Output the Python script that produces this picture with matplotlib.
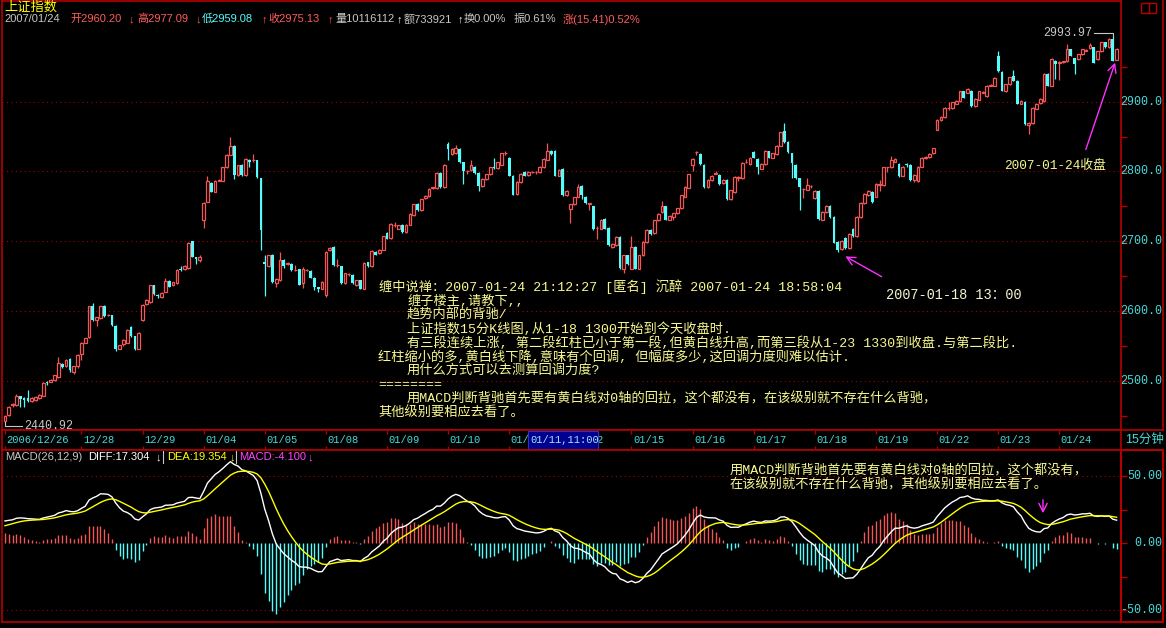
import numpy as np
import matplotlib
matplotlib.use("Agg")
import matplotlib.pyplot as plt
from matplotlib.patches import Rectangle, FancyArrowPatch

FAM = ['Liberation Sans', 'Noto Sans CJK SC', 'DejaVu Sans']
MONO = ['Liberation Mono', 'Noto Sans CJK SC', 'DejaVu Sans']
plt.rcParams['font.family'] = FAM

# ---- 15 minute bars, 2006/12/26 (tail) .. 2007/01/24 ----
days = ['2006/12/26', '12/27', '12/28', '12/29', '01/04', '01/05', '01/08', '01/09', '01/10',
        '01/11', '01/12', '01/15', '01/16', '01/17', '01/18', '01/19', '01/22', '01/23', '01/24']
bars_per_day = [4] + [16] * 18
shown_days = ['2006/12/26', '12/28', '12/29', '01/04', '01/05', '01/08', '01/09', '01/10', '01/11',
              '01/12', '01/15', '01/16', '01/17', '01/18', '01/19', '01/22', '01/23', '01/24']

opens = [
    2443, 2451, 2465, 2465,
    2478, 2476, 2475, 2471, 2472, 2475, 2479, 2499, 2499, 2501, 2506, 2524, 2521, 2532, 2513, 2521,
    2539, 2555, 2563, 2607, 2587, 2590, 2608, 2594, 2594, 2579, 2546, 2553, 2555, 2577, 2564, 2546,
    2587, 2610, 2613, 2637, 2623, 2620, 2628, 2643, 2637, 2640, 2660, 2660, 2662, 2700, 2677, 2673,
    2731, 2757, 2784, 2771, 2787, 2787, 2806, 2824, 2836, 2795, 2810, 2795, 2817, 2816, 2816, 2790,
    2670, 2664, 2681, 2640, 2644, 2673, 2667, 2668, 2659, 2660, 2640, 2659, 2658, 2648, 2634, 2632,
    2623, 2687, 2692, 2666, 2664, 2640, 2653, 2652, 2637, 2644, 2632, 2670, 2664, 2685, 2683, 2688,
    2712, 2705, 2723, 2718, 2724, 2713, 2724, 2737, 2754, 2745, 2762, 2765, 2777, 2776, 2798, 2778,
    2839, 2825, 2826, 2832, 2813, 2800, 2802, 2807, 2798, 2779, 2789, 2796, 2807, 2805, 2810, 2826,
    2820, 2794, 2768, 2785, 2799, 2795, 2799, 2799, 2799, 2806, 2817, 2830, 2830, 2794, 2804, 2766,
    2746, 2753, 2764, 2779, 2764, 2754, 2750, 2719, 2718, 2732, 2719, 2692, 2694, 2706, 2660, 2680,
    2661, 2692, 2661, 2680, 2699, 2716, 2712, 2730, 2742, 2750, 2731, 2735, 2740, 2747, 2764, 2777,
    2810, 2828, 2825, 2810, 2778, 2788, 2797, 2795, 2783, 2788, 2760, 2770, 2791, 2790, 2813, 2811,
    2828, 2818, 2804, 2811, 2829, 2820, 2825, 2837, 2858, 2842, 2826, 2810, 2790, 2775, 2774, 2779,
    2762, 2772, 2731, 2742, 2751, 2735, 2699, 2689, 2705, 2690, 2718, 2707, 2735, 2755, 2766, 2771,
    2764, 2781, 2780, 2806, 2806, 2814, 2811, 2794, 2811, 2810, 2788, 2786, 2807, 2820, 2821, 2826,
    2860, 2874, 2878, 2891, 2891, 2897, 2901, 2915, 2913, 2916, 2894, 2903, 2913, 2908, 2923, 2923,
    2966, 2943, 2915, 2925, 2937, 2930, 2897, 2900, 2866, 2869, 2890, 2898, 2901, 2940, 2923, 2959,
    2956, 2957, 2958, 2975, 2962, 2961, 2968, 2973, 2977, 2978, 2961, 2972, 2985, 2978, 2990, 2960.20,
]
highs = [
    2451, 2464, 2469, 2481,
    2479, 2477, 2487, 2477, 2478, 2481, 2498, 2500, 2503, 2509, 2534, 2525, 2531, 2533, 2522, 2538,
    2556, 2562, 2608, 2611, 2592, 2608, 2609, 2596, 2595, 2580, 2552, 2560, 2574, 2578, 2565, 2570,
    2610, 2617, 2638, 2638, 2624, 2627, 2647, 2644, 2642, 2660, 2665, 2666, 2699, 2701, 2678, 2680,
    2756, 2793, 2785, 2788, 2789, 2807, 2825, 2850, 2838, 2810, 2811, 2819, 2818, 2825, 2817, 2791,
    2680, 2681, 2682, 2647, 2685, 2674, 2671, 2669, 2666, 2661, 2663, 2661, 2659, 2649, 2635, 2643,
    2686, 2692, 2693, 2674, 2665, 2655, 2655, 2653, 2645, 2645, 2670, 2671, 2687, 2686, 2689, 2708,
    2713, 2726, 2727, 2724, 2725, 2725, 2740, 2754, 2755, 2761, 2766, 2776, 2778, 2799, 2799, 2811,
    2842, 2833, 2838, 2833, 2814, 2802, 2816, 2808, 2799, 2790, 2797, 2807, 2820, 2814, 2827, 2829,
    2821, 2795, 2786, 2798, 2800, 2800, 2801, 2800, 2808, 2819, 2841, 2831, 2831, 2803, 2805, 2773,
    2754, 2764, 2782, 2780, 2765, 2755, 2751, 2722, 2732, 2733, 2720, 2697, 2707, 2707, 2681, 2681,
    2707, 2693, 2681, 2700, 2717, 2717, 2731, 2740, 2758, 2751, 2737, 2741, 2748, 2767, 2779, 2797,
    2820, 2830, 2826, 2811, 2789, 2795, 2801, 2796, 2789, 2789, 2774, 2793, 2793, 2813, 2818, 2821,
    2829, 2819, 2812, 2831, 2830, 2827, 2838, 2857, 2869, 2843, 2827, 2811, 2791, 2777, 2791, 2781,
    2773, 2773, 2743, 2752, 2752, 2736, 2700, 2702, 2706, 2712, 2719, 2736, 2756, 2769, 2773, 2772,
    2783, 2788, 2807, 2807, 2822, 2819, 2812, 2808, 2812, 2811, 2796, 2808, 2821, 2822, 2826, 2834,
    2875, 2879, 2892, 2900, 2900, 2903, 2916, 2916, 2919, 2917, 2905, 2916, 2915, 2924, 2925, 2935,
    2972, 2944, 2926, 2936, 2946, 2931, 2902, 2901, 2871, 2892, 2898, 2905, 2941, 2941, 2962, 2960,
    2958, 2959, 2982, 2976, 2963, 2969, 2976, 2975, 2984, 2979, 2973, 2986, 2986, 2991, 2993.97, 2977.09,
]
lows = [
    2440.92, 2450, 2463, 2464,
    2463, 2462, 2470, 2470, 2471, 2474, 2478, 2494, 2498, 2500, 2504, 2518, 2520, 2513, 2510, 2519,
    2530, 2554, 2562, 2586, 2578, 2589, 2592, 2593, 2579, 2543, 2545, 2550, 2554, 2563, 2544, 2545,
    2586, 2609, 2612, 2623, 2619, 2619, 2627, 2634, 2636, 2639, 2657, 2659, 2661, 2677, 2667, 2670,
    2719, 2756, 2770, 2770, 2786, 2786, 2805, 2823, 2789, 2794, 2794, 2794, 2807, 2814, 2790, 2688,
    2621, 2663, 2640, 2634, 2643, 2662, 2666, 2658, 2657, 2637, 2633, 2657, 2647, 2630, 2628, 2631,
    2620, 2686, 2664, 2663, 2639, 2639, 2651, 2639, 2636, 2631, 2631, 2663, 2663, 2680, 2682, 2687,
    2703, 2704, 2721, 2717, 2712, 2712, 2723, 2736, 2744, 2744, 2761, 2764, 2775, 2775, 2777, 2777,
    2816, 2824, 2825, 2812, 2782, 2796, 2801, 2797, 2772, 2778, 2788, 2795, 2804, 2804, 2809, 2824,
    2793, 2766, 2767, 2784, 2793, 2794, 2798, 2797, 2798, 2805, 2816, 2824, 2793, 2793, 2765, 2765,
    2726, 2752, 2763, 2760, 2754, 2745, 2716, 2703, 2717, 2717, 2693, 2691, 2693, 2661, 2654, 2666,
    2660, 2660, 2660, 2679, 2698, 2709, 2711, 2729, 2741, 2730, 2730, 2730, 2739, 2746, 2763, 2776,
    2800, 2823, 2810, 2777, 2777, 2787, 2796, 2781, 2782, 2759, 2759, 2769, 2787, 2789, 2812, 2810,
    2819, 2796, 2803, 2810, 2819, 2819, 2824, 2836, 2841, 2827, 2790, 2789, 2745, 2762, 2773, 2776,
    2761, 2731, 2730, 2741, 2734, 2697, 2685, 2688, 2689, 2689, 2706, 2706, 2734, 2754, 2765, 2755,
    2763, 2772, 2779, 2799, 2805, 2813, 2792, 2793, 2806, 2787, 2785, 2785, 2806, 2818, 2820, 2825,
    2859, 2873, 2877, 2888, 2890, 2896, 2900, 2905, 2912, 2893, 2893, 2902, 2912, 2907, 2922, 2922,
    2943, 2915, 2914, 2924, 2929, 2896, 2896, 2867, 2854, 2868, 2889, 2897, 2900, 2922, 2922, 2933,
    2931, 2956, 2957, 2965, 2940, 2960, 2967, 2972, 2976, 2955, 2960, 2971, 2977, 2977, 2958, 2959.08,
]
closes = [
    2450, 2463, 2467, 2479,
    2474, 2472, 2471, 2476, 2477, 2480, 2497, 2497, 2502, 2508, 2525, 2520, 2530, 2515, 2521, 2537,
    2555, 2561, 2607, 2587, 2591, 2607, 2593, 2595, 2580, 2545, 2551, 2558, 2573, 2564, 2546, 2569,
    2609, 2616, 2637, 2624, 2622, 2626, 2643, 2635, 2641, 2659, 2659, 2665, 2698, 2678, 2674, 2678,
    2755, 2786, 2771, 2787, 2788, 2806, 2824, 2836, 2795, 2809, 2795, 2818, 2813, 2816, 2792, 2716,
    2668, 2680, 2642, 2646, 2673, 2664, 2669, 2659, 2659, 2638, 2660, 2659, 2648, 2634, 2632, 2642,
    2685, 2690, 2666, 2666, 2640, 2654, 2653, 2640, 2644, 2632, 2669, 2664, 2686, 2681, 2688, 2707,
    2704, 2725, 2723, 2723, 2713, 2724, 2739, 2753, 2745, 2760, 2765, 2775, 2777, 2798, 2778, 2810,
    2832, 2832, 2833, 2813, 2801, 2801, 2809, 2798, 2779, 2789, 2796, 2806, 2805, 2813, 2826, 2826,
    2794, 2767, 2785, 2797, 2794, 2799, 2799, 2799, 2807, 2818, 2830, 2825, 2794, 2802, 2766, 2772,
    2753, 2763, 2778, 2766, 2755, 2754, 2717, 2719, 2731, 2718, 2694, 2696, 2706, 2662, 2680, 2667,
    2692, 2661, 2680, 2699, 2716, 2710, 2730, 2739, 2750, 2731, 2736, 2740, 2747, 2766, 2778, 2796,
    2818, 2828, 2811, 2778, 2788, 2794, 2797, 2782, 2788, 2760, 2773, 2792, 2791, 2812, 2813, 2820,
    2820, 2806, 2811, 2830, 2820, 2826, 2837, 2856, 2842, 2828, 2812, 2790, 2778, 2775, 2781, 2779,
    2772, 2732, 2742, 2751, 2735, 2698, 2687, 2701, 2690, 2711, 2707, 2735, 2755, 2768, 2772, 2756,
    2782, 2781, 2806, 2806, 2816, 2818, 2793, 2807, 2809, 2788, 2795, 2807, 2820, 2820, 2825, 2833,
    2874, 2878, 2891, 2891, 2899, 2901, 2915, 2906, 2918, 2894, 2904, 2915, 2913, 2923, 2923, 2934,
    2944, 2916, 2925, 2935, 2930, 2897, 2901, 2868, 2870, 2891, 2897, 2904, 2940, 2923, 2961, 2954,
    2956, 2958, 2975, 2966, 2954, 2968, 2975, 2973, 2981, 2956, 2972, 2985, 2978, 2990, 2959, 2975.13,
]

price_ticks = [2500, 2600, 2700, 2800, 2900]
macd_ticks = [50, 0, -50]

header_items = [
    ('2007/01/24', 4, '#c8c8c8'), ('开2960.20', 70, '#ff5c5c'), ('↓', 129, '#ff5c5c'),
    ('高2977.09', 137, '#ff5c5c'), ('↓', 196, '#ff5c5c'), ('低2959.08', 202, '#54fcfc'),
    ('↑', 262, '#ff5c5c'), ('收2975.13', 268, '#ff5c5c'), ('↑', 328, '#ff5c5c'),
    ('量10116112', 335, '#c8c8c8'), ('↑', 397, '#ffffff'), ('额733921', 404, '#c8c8c8'),
    ('↑', 458, '#ffffff'), ('换0.00%', 464, '#c8c8c8'), ('振0.61%', 514, '#c8c8c8'),
    ('涨(15.41)0.52%', 563, '#ff5c5c'),
]
macd_items = [
    ('MACD(26,12,9)', 5, '#c8c8c8'), ('DIFF:17.304', 88, '#ffffff'), ('↓', 156, '#ffffff'),
    ('DEA:19.354', 167, '#ffff00'), ('↓', 230, '#ffff00'), ('MACD:-4.100', 239, '#ff44ff'),
    ('↓', 308, '#ff44ff'),
]
note_lines = [
    ('缠中说禅：2007-01-24 21:12:27 [匿名] 沉醉 2007-01-24 18:58:04', 379),
    ('缠子楼主,请教下,,', 407),
    ('趋势内部的背驰/', 407),
    ('上证指数15分K线图,从1-18 1300开始到今天收盘时.', 407),
    ('有三段连续上涨, 第二段红柱已小于第一段,但黄白线升高,而第三段从1-23 1330到收盘.与第二段比.', 407),
    ('红柱缩小的多,黄白线下降,意味有个回调, 但幅度多少,这回调力度则难以估计.', 378),
    ('用什么方式可以去测算回调力度?', 407),
    ('========', 378),
    ('用MACD判断背驰首先要有黄白线对0轴的回拉，这个都没有，在该级别就不存在什么背驰，', 407),
    ('其他级别要相应去看了。', 378),
]
macd_note = ['用MACD判断背驰首先要有黄白线对0轴的回拉，这个都没有，',
             '在该级别就不存在什么背驰，其他级别要相应去看了。']

RED = '#f25656'
CYAN = '#54fcfc'
TXT_CYAN = '#48d8d8'
FRAME = '#b40000'
GRID = '#a00000'
NOTE = '#f8f890'
MAG = '#ff30ff'

W, H = 1166, 628
fig = plt.figure(figsize=(W / 100, H / 100), dpi=100, facecolor='black')


def rect(x0, y0, x1, y1):
    return [x0 / W, 1 - y1 / H, (x1 - x0) / W, (y1 - y0) / H]


def ftext(x, y, s, **kw):
    kw.setdefault('va', 'center')
    kw.setdefault('ha', 'left')
    return fig.text(x / W, 1 - y / H, s, **kw)


# bar i sits at pixel 5 + 3.82*i
XL = (-3 / 3.82, 1116 / 3.82)

ax = fig.add_axes(rect(2, 1, 1121, 430), facecolor='black')
axd = fig.add_axes(rect(2, 430, 1121, 450), facecolor='black')
axm = fig.add_axes(rect(2, 450, 1121, 622), facecolor='black')

for a in (ax, axd, axm):
    a.set_xlim(*XL)
    a.set_xticks([])
    for s in a.spines.values():
        s.set_color(FRAME)
        s.set_linewidth(1.2)

ax.set_ylim(2800 - (430 - 171.5) / 0.698, 2800 + (171.5 - 1) / 0.698)
axm.set_ylim(-(622 - 543) / 1.34, (543 - 450) / 1.34)
axd.set_ylim(0, 1)
axd.set_yticks([])

# ---- candles ----
o, hi, lo, c = map(np.array, (opens, highs, lows, closes))
x = np.arange(len(c))
up = c >= o
top = np.maximum(o, c)
bot = np.minimum(o, c)
body = np.maximum(top - bot, 0.5)
ax.vlines(x[up], top[up], hi[up], color=RED, lw=0.9)
ax.vlines(x[up], lo[up], bot[up], color=RED, lw=0.9)
ax.bar(x[up], body[up], bottom=bot[up], width=0.72, facecolor='black', edgecolor=RED, linewidth=0.9)
ax.vlines(x[~up], lo[~up], hi[~up], color=CYAN, lw=0.9)
ax.bar(x[~up], body[~up], bottom=bot[~up], width=0.72, color=CYAN, linewidth=0)

for p in price_ticks:
    ax.axhline(p, color=GRID, ls=(0, (1, 3)), lw=0.8, zorder=0)
    ax.text(1.0366, p, f'{p:.1f}', transform=ax.get_yaxis_transform(), ha='right', va='center',
            color=TXT_CYAN, fontsize=8.4, family='Liberation Mono', clip_on=False)
ax.yaxis.tick_right()
ax.set_yticks(price_ticks)
ax.set_yticks([p + 50 for p in price_ticks[:-1]] + [2450, 2950], minor=True)
ax.tick_params(axis='y', which='both', right=True, left=False, labelright=False,
               color=FRAME, length=4, width=1)

# high / low markers
ih = int(np.argmax(hi))
il = int(np.argmin(lo))
ax.plot([ih - 5, ih, ih], [hi[ih] + 4, hi[ih] + 4, hi[ih]], color='#c8c8c8', lw=0.8)
ax.text(ih - 5.5, hi[ih] + 4, f'{hi[ih]:.2f}', ha='right', va='center', color='#c8c8c8',
        fontsize=8.4, family='Liberation Mono')
ax.plot([il, il, il + 4.5], [lo[il], lo[il] - 5, lo[il] - 5], color='#c8c8c8', lw=0.8)
ax.text(il + 5, lo[il] - 5, f'{lo[il]:.2f}', ha='left', va='center', color='#c8c8c8',
        fontsize=8.4, family='Liberation Mono')

# ---- date strip ----
starts = np.concatenate([[0], np.cumsum(bars_per_day)[:-1]])
for d, s in zip(days, starts):
    if d not in shown_days:
        continue
    axd.text(s + 0.4, 0.5, d, ha='left', va='center', color=TXT_CYAN, fontsize=7.6,
             family='Liberation Mono', zorder=2)
    axd.vlines(s, 0, 0.2, color=FRAME, lw=1)
    axd.vlines(s, 0.8, 1, color=FRAME, lw=1)
cursor = starts[days.index('01/11')] + 5
axd.add_patch(Rectangle((cursor, 0.04), 18.3, 0.92, facecolor='#000090', edgecolor='#3030c0',
                        lw=0.8, zorder=5))
axd.text(cursor + 0.6, 0.5, '01/11,11:00', ha='left', va='center', color='#a0e8ff', fontsize=7.6,
         family='Liberation Mono', zorder=6)

# ---- MACD ----
def ema(vals, n, seed):
    a = 2 / (n + 1)
    out, prev = [], seed
    for v in vals:
        prev = a * v + (1 - a) * prev
        out.append(prev)
    return np.array(out)


diff = ema(c, 12, c[0] - 9) - ema(c, 26, c[0] - 26)
dea = ema(diff, 9, 12)
macd = 2 * (diff - dea)
pos = macd >= 0
axm.vlines(x[pos], 0, macd[pos], color=RED, lw=1)
axm.vlines(x[~pos], macd[~pos], 0, color=CYAN, lw=1)
axm.plot(x, diff, color='white', lw=1)
axm.plot(x, dea, color='#ffff00', lw=1)
for m in macd_ticks:
    if m != 0:
        axm.axhline(m, color=GRID, ls=(0, (1, 3)), lw=0.8, zorder=0)
    axm.text(1.0366, m, f'{m:.2f}', transform=axm.get_yaxis_transform(), ha='right', va='center',
             color=TXT_CYAN, fontsize=8.4, family='Liberation Mono', clip_on=False)
axm.yaxis.tick_right()
axm.set_yticks(macd_ticks)
axm.set_yticks([25, -25], minor=True)
axm.tick_params(axis='y', which='both', right=True, left=False, labelright=False,
                color=FRAME, length=4, width=1)

# ---- frames on the right ----
fig.add_artist(plt.Line2D([1163 / W, 1163 / W], [1 - 430 / H, 1], transform=fig.transFigure,
                          color=FRAME, lw=1.2))
fig.add_artist(Rectangle((1121 / W, 1 - 622 / H), 42 / W, 172 / H, transform=fig.transFigure,
                         fill=False, edgecolor=FRAME, lw=1.5))
fig.add_artist(plt.Line2D([1121 / W, 1163 / W], [1 - 430 / H] * 2, transform=fig.transFigure,
                          color=FRAME, lw=1.2))
fig.add_artist(Rectangle((1141 / W, 1 - 13 / H), 15 / W, 10 / H, transform=fig.transFigure,
                         fill=False, edgecolor=FRAME, lw=1))
fig.add_artist(plt.Line2D([1149 / W] * 2, [1 - 13 / H, 1 - 3 / H], transform=fig.transFigure,
                          color=FRAME, lw=1))
ftext(1125, 440, '15分钟', color=TXT_CYAN, fontsize=9)

# ---- header texts ----
ftext(4, 7.5, '上证指数', color='#ffff00', fontsize=9.5)
for s, px, col in header_items:
    ftext(px, 19, s, color=col, fontsize=8)
for s, px, col in macd_items:
    ftext(px, 457, s, color=col, fontsize=8)
for px in (163, 236):
    fig.add_artist(plt.Line2D([px / W] * 2, [1 - 463 / H, 1 - 451 / H], transform=fig.transFigure,
                              color='#c8c8c8', lw=0.8))

# ---- notes ----
for k, (s, px) in enumerate(note_lines):
    ftext(px, 287 + k * 14, s, color=NOTE, fontsize=9.5, family=MONO)
ftext(730, 470, macd_note[0], color=NOTE, fontsize=9.5, family=MONO)
ftext(730, 485, macd_note[1], color=NOTE, fontsize=9.5, family=MONO)
ftext(886, 295, '2007-01-18 13：00', color='#f4f4d0', fontsize=9.8, family=MONO)
ftext(1004, 166, '2007-01-24收盘', color=NOTE, fontsize=9.2, family=MONO)


def arrow(x0, y0, x1, y1):
    fig.add_artist(FancyArrowPatch(
        (x0 / W, 1 - y0 / H), (x1 / W, 1 - y1 / H), transform=fig.transFigure,
        arrowstyle='->,head_length=6,head_width=3', color=MAG, lw=1, mutation_scale=1))


arrow(884, 278, 843, 255)
arrow(1085, 152, 1116, 60)
arrow(1043, 497, 1043, 516)

fig.savefig('out.png', dpi=100, facecolor='black')
